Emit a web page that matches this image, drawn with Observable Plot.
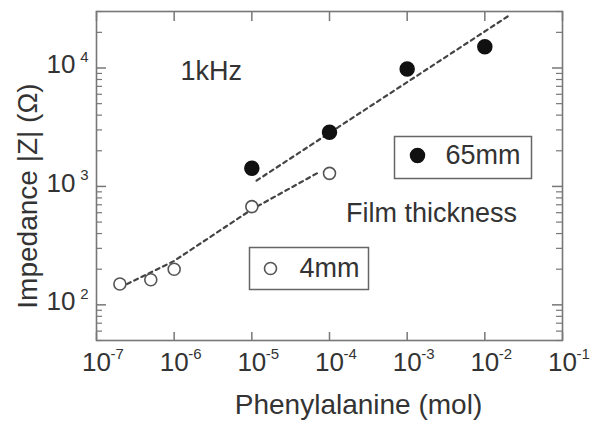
<!DOCTYPE html>
<html>
<head>
<meta charset="utf-8">
<script src="https://cdn.jsdelivr.net/npm/d3@7"></script>
<script src="https://cdn.jsdelivr.net/npm/@observablehq/plot@0.6"></script>
<style>
  html, body { margin: 0; padding: 0; background: #fff; }
  #chart svg { display: block; }
</style>
</head>
<body>
<div id="chart"></div>
<script>
// ---- data ----
const conc4mm = [2e-7, 5e-7, 1e-6, 1e-5, 1e-4];
const imp4mm = [150, 163, 200, 675, 1290];
const conc65mm = [1e-5, 1e-4, 1e-3, 1e-2];
const imp65mm = [1425, 2870, 9800, 15100];
// dashed guide lines
const fit4mmX = [2e-7, 1e-6, 1e-5, 7.5e-5];
const fit4mmY = [140, 235, 640, 1330];
const fit65mmX = [1.15e-5, 0.021];
const fit65mmY = [1120, 28000];
// ticks
const xTicks = [1e-7, 1e-6, 1e-5, 1e-4, 1e-3, 1e-2, 1e-1];
const xTickExp = ["-7", "-6", "-5", "-4", "-3", "-2", "-1"];
const yTicks = [1e2, 1e3, 1e4];
const yTickExp = ["2", "3", "4"];
const yMinor = [50, 60, 70, 80, 90, 200, 300, 400, 500, 600, 700, 800, 900,
                2000, 3000, 4000, 5000, 6000, 7000, 8000, 9000, 20000, 30000];
const legendLabels = ["65mm", "4mm"];
const noteFreq = "1kHz";
const noteThick = "Film thickness";
const xTitle = "Phenylalanine (mol)";
const yTitle = "Impedance |Z| (Ω)";

const pts4 = conc4mm.map((x, i) => ({x, y: imp4mm[i]}));
const pts65 = conc65mm.map((x, i) => ({x, y: imp65mm[i]}));
const fit4 = fit4mmX.map((x, i) => ({x, y: fit4mmY[i]}));
const fit65 = fit65mmX.map((x, i) => ({x, y: fit65mmY[i]}));

const W = 604, H = 425, mL = 96, mR = 42, mT = 11, mB = 85;
const fw = W - mL - mR, fh = H - mT - mB;
const axisCol = "#777";
const textCol = "#333";
const font = "Liberation Sans, Arial, Helvetica, sans-serif";
const txt = {fill: textCol, lineAnchor: "middle"};

const chart = Plot.plot({
  width: W, height: H,
  marginLeft: mL, marginRight: mR, marginTop: mT, marginBottom: mB,
  style: {fontFamily: font, color: textCol, background: "#fff"},
  x: {type: "log", domain: [1e-7, 1e-1], axis: null},
  y: {type: "log", domain: [50, 30000], axis: null},
  marks: [
    // inward ticks
    Plot.tickX(xTicks, {x: d => d, insetTop: fh - 8, stroke: axisCol, strokeWidth: 1.5}),
    Plot.tickX(xTicks, {x: d => d, insetBottom: fh - 10, stroke: axisCol, strokeWidth: 1.5}),
    Plot.tickY(yTicks, {y: d => d, insetRight: fw - 10, stroke: axisCol, strokeWidth: 1.5}),
    Plot.tickY(yTicks, {y: d => d, insetLeft: fw - 10, stroke: axisCol, strokeWidth: 1.5}),
    Plot.tickY(yMinor, {y: d => d, insetRight: fw - 6, stroke: axisCol, strokeWidth: 1.2}),
    Plot.tickY(yMinor, {y: d => d, insetLeft: fw - 6, stroke: axisCol, strokeWidth: 1.2}),
    Plot.frame({stroke: axisCol, strokeWidth: 1.6}),
    // tick labels
    Plot.text(xTicks, {x: d => d, frameAnchor: "bottom", text: () => "10", dy: 22, fontSize: 26, ...txt}),
    Plot.text(xTicks, {x: d => d, frameAnchor: "bottom", text: (d, i) => xTickExp[i], textAnchor: "start", dx: 14, dy: 14, fontSize: 15, ...txt}),
    Plot.text(yTicks, {y: d => d, frameAnchor: "left", text: () => "10", textAnchor: "end", dx: -21, dy: -3, fontSize: 26, ...txt}),
    Plot.text(yTicks, {y: d => d, frameAnchor: "left", text: (d, i) => yTickExp[i], textAnchor: "end", dx: -8, dy: -11, fontSize: 15, ...txt}),
    // x axis title
    Plot.text([xTitle], {frameAnchor: "bottom", dx: 29, dy: 65, fontSize: 28, ...txt}),
    // dashed guides
    Plot.line(fit4, {x: "x", y: "y", stroke: "#444", strokeWidth: 2.2, strokeDasharray: "4,4"}),
    Plot.line(fit65, {x: "x", y: "y", stroke: "#444", strokeWidth: 2.2, strokeDasharray: "4,4"}),
    // data points
    Plot.dot(pts4, {x: "x", y: "y", r: 6, fill: "#fff", stroke: "#555", strokeWidth: 1.6}),
    Plot.dot(pts65, {x: "x", y: "y", r: 7, fill: "#111", stroke: "#111"}),
    // annotations
    Plot.text([noteFreq], {frameAnchor: "top-left", dx: 84, dy: 60, textAnchor: "start", fontSize: 27, ...txt}),
    Plot.text([noteThick], {frameAnchor: "top-left", dx: 335, dy: 202, textAnchor: "middle", fontSize: 27, ...txt}),
    // legend boxes
    Plot.frame({insetLeft: 298, insetRight: 31, insetTop: 125, insetBottom: 162, stroke: "#666", strokeWidth: 1.5}),
    Plot.dot([0], {frameAnchor: "top-left", dx: 321, dy: 144, r: 7, fill: "#111", stroke: "#111"}),
    Plot.text([legendLabels[0]], {frameAnchor: "top-left", dx: 349, dy: 144, textAnchor: "start", fontSize: 27, ...txt}),
    Plot.frame({insetLeft: 153, insetRight: 194, insetTop: 236, insetBottom: 51, stroke: "#666", strokeWidth: 1.5}),
    Plot.dot([0], {frameAnchor: "top-left", dx: 174, dy: 257, r: 6, fill: "#fff", stroke: "#555", strokeWidth: 1.6}),
    Plot.text([legendLabels[1]], {frameAnchor: "top-left", dx: 203, dy: 257, textAnchor: "start", fontSize: 27, ...txt})
  ]
});
// y axis title (rotated)
d3.select(chart).append("text")
  .attr("transform", "translate(27,196) rotate(-90)")
  .attr("text-anchor", "middle")
  .attr("dominant-baseline", "central")
  .attr("font-family", font)
  .attr("font-size", 28)
  .attr("fill", textCol)
  .text(yTitle);
document.getElementById("chart").appendChild(chart);
</script>
</body>
</html>
